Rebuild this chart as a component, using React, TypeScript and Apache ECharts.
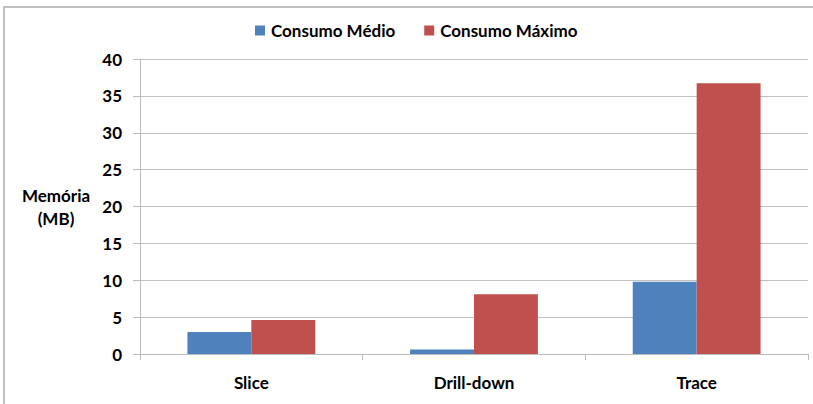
import React, { useEffect, useRef } from "react";
import * as echarts from "echarts";

const categories = ["Slice", "Drill-down", "Trace"];
const consumoMedio = [3.0, 0.6, 9.8];
const consumoMaximo = [4.6, 8.1, 36.7];
const seriesNames = ["Consumo Médio", "Consumo Máximo"];
const yAxisTitle = "Memória\n(MB)";

export default function App() {
  const ref = useRef<HTMLDivElement>(null);
  useEffect(() => {
    if (!ref.current) return;
    const chart = echarts.init(ref.current, null, { renderer: "svg" });
    const fam = "Lato, 'Open Sans', sans-serif";
    const axisFont = { fontFamily: fam, fontWeight: "bold" as const, fontSize: 17, color: "#000" };
    chart.setOption({
      animation: false,
      backgroundColor: "#fff",
      graphic: [
        {
          type: "rect",
          shape: { x: 4, y: 7, width: 900, height: 500 },
          style: { fill: "none", stroke: "#bfbfbf", lineWidth: 2 },
          silent: true,
        },
        {
          type: "text",
          x: 56,
          y: 207,
          style: {
            text: yAxisTitle,
            align: "center",
            verticalAlign: "middle",
            fontFamily: fam,
            fontWeight: "bold",
            fontSize: 17,
            lineHeight: 23,
            fill: "#000",
          },
        },
      ],
      legend: {
        left: 250,
        top: 17,
        itemWidth: 10,
        itemHeight: 10,
        itemGap: 29,
        icon: "rect",
        textStyle: {
          fontFamily: fam,
          fontWeight: "bold",
          fontSize: 17,
          color: "#000",
          padding: [0, 0, 0, 1],
        },
        data: seriesNames,
      },
      grid: { left: 140, right: 5, top: 59, bottom: 50, containLabel: false },
      xAxis: {
        type: "category",
        data: categories,
        axisLine: { lineStyle: { color: "#bcbcbc", width: 1 } },
        axisTick: { show: true, length: 6, lineStyle: { color: "#bcbcbc" } },
        axisLabel: { ...axisFont, margin: 20 },
      },
      yAxis: {
        type: "value",
        min: 0,
        max: 40,
        interval: 5,
        axisLine: { show: true, lineStyle: { color: "#bcbcbc", width: 1 } },
        axisTick: { show: true, length: 7, lineStyle: { color: "#bcbcbc" } },
        axisLabel: { ...axisFont, margin: 18 },
        splitLine: { show: true, lineStyle: { color: "#c0c0c0", width: 1 } },
      },
      series: [
        {
          name: seriesNames[0],
          type: "bar",
          data: consumoMedio,
          itemStyle: { color: "#4f81bd" },
          barGap: "0%",
          barCategoryGap: "42.6%",
        },
        {
          name: seriesNames[1],
          type: "bar",
          data: consumoMaximo,
          itemStyle: { color: "#c0504d" },
          barGap: "0%",
          barCategoryGap: "42.6%",
        },
      ],
    });
    return () => chart.dispose();
  }, []);
  return (
    <div
      ref={ref}
      style={{ position: "fixed", left: 0, top: 0, width: 813, height: 404 }}
    />
  );
}
